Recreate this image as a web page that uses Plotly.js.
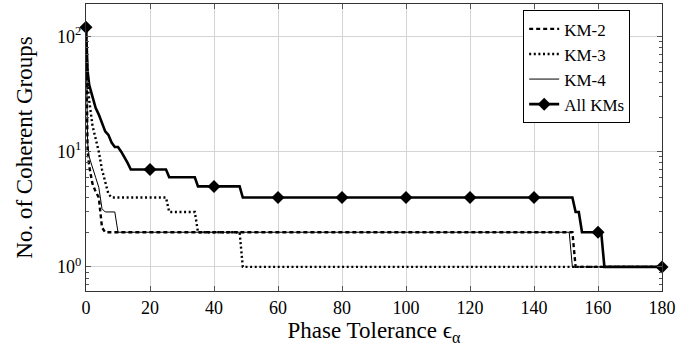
<!DOCTYPE html>
<html>
<head>
<meta charset="utf-8">
<script src="https://cdn.plot.ly/plotly-3.0.1.min.js"></script>
<style>html,body{margin:0;padding:0;background:#fff;}#chart{width:678px;height:351px;}</style>
</head>
<body>
<div id="chart"></div>
<script>
// ---- data ----
const km2X = [0, 0.5, 1, 2, 3, 4, 5, 6, 152, 153, 180];
const km2Y = [120, 10, 7.5, 5.3, 4.5, 4, 2.2, 2, 2, 1, 1];

const km3X = [0, 0.5, 1, 2, 3, 4, 5, 6, 7, 8, 25, 26, 34, 35, 48, 49, 180];
const km3Y = [120, 40, 28, 17, 13, 10, 7, 5.5, 4.3, 4, 4, 3, 3, 2, 2, 1, 1];

const km4X = [0, 0.5, 1, 2, 3, 4, 5, 6, 9, 10, 151, 152, 180];
const km4Y = [120, 12, 9, 7.5, 6, 4.9, 3.2, 3, 3, 2, 2, 1, 1];

const allX = [0, 0.5, 1, 2, 3, 4, 5, 6, 7, 8, 9, 10, 11, 12, 13, 14, 20, 25, 26, 34, 35, 40, 48, 49, 60, 80, 100, 120, 140, 152, 153, 154, 155, 160, 161, 162, 180];
const allY = [120, 50, 38, 30, 24, 21, 18, 15, 14, 12, 11, 11, 10, 9, 8, 7, 7, 7, 6, 6, 5, 5, 5, 4, 4, 4, 4, 4, 4, 4, 3, 3, 2, 2, 2, 1, 1];
const allMarkX = [0, 20, 40, 60, 80, 100, 120, 140, 160, 180];

const seriesNames = ['KM-2', 'KM-3', 'KM-4', 'All KMs'];
const xTicks = [0, 20, 40, 60, 80, 100, 120, 140, 160, 180];
const yTicks = [1, 10, 100];
const yTickText = ['10<sup>0</sup>', '10<sup>1</sup>', '10<sup>2</sup>'];
const yMinorTicks = [0.7, 0.8, 0.9, 2, 3, 4, 5, 6, 7, 8, 9, 20, 30, 40, 50, 60, 70, 80, 90];

// ---- figure ----
const FONT = 'Liberation Serif';
const markIdx = allX.map((x, i) => allMarkX.includes(x) ? i : -1).filter(i => i >= 0);

const traces = [
  {x: km2X, y: km2Y, name: seriesNames[0], mode: 'lines',
   line: {color: '#000', width: 2.4, dash: '4px,3px'}},
  {x: km3X, y: km3Y, name: seriesNames[1], mode: 'lines',
   line: {color: '#000', width: 2.4, dash: '2px,2.6px'}},
  {x: km4X, y: km4Y, name: seriesNames[2], mode: 'lines',
   line: {color: '#000', width: 1}},
  {x: allX, y: allY, name: seriesNames[3], mode: 'lines+markers',
   line: {color: '#000', width: 2.6},
   marker: {symbol: 'diamond', size: 10, color: '#000'},
   cliponaxis: false,
   selectedpoints: markIdx,
   selected: {marker: {opacity: 1}},
   unselected: {marker: {opacity: 0}}}
];

const axisCommon = {
  showline: true, linecolor: '#333', linewidth: 1, mirror: 'ticks',
  ticks: 'inside', tickcolor: '#555', ticklen: 5, tickwidth: 1,
  showgrid: true, gridcolor: '#d4d4d4', gridwidth: 1, zeroline: false,
  tickfont: {family: FONT, size: 18, color: '#000'}
};

const layout = {
  width: 678, height: 351,
  margin: {l: 86, r: 16, t: 4, b: 60},
  paper_bgcolor: '#fff', plot_bgcolor: '#fff',
  showlegend: true,
  font: {family: FONT, color: '#000'},
  xaxis: Object.assign({}, axisCommon, {
    range: [0, 180], tickvals: xTicks, ticktext: xTicks.map(String),
    title: {text: 'Phase Tolerance ϵ<sub>α</sub>', font: {family: FONT, size: 23, color: '#000'}, standoff: 5}
  }),
  yaxis: Object.assign({}, axisCommon, {
    type: 'log', range: [-0.209, 2.282],
    tickvals: yTicks, ticktext: yTickText,
    minor: {tickmode: 'array', tickvals: yMinorTicks, ticks: 'inside', ticklen: 3, tickcolor: '#555', showgrid: false},
    title: {text: 'No. of Coherent Groups', font: {family: FONT, size: 23, color: '#000'}, standoff: 18}
  }),
  legend: {
    x: 0.759, y: 0.978, xanchor: 'left', yanchor: 'top',
    bgcolor: '#fff', bordercolor: '#000', borderwidth: 1,
    font: {family: FONT, size: 17, color: '#000'},
    itemwidth: 30
  }
};

Plotly.newPlot('chart', traces, layout, {displayModeBar: false, staticPlot: true});
</script>
</body>
</html>
